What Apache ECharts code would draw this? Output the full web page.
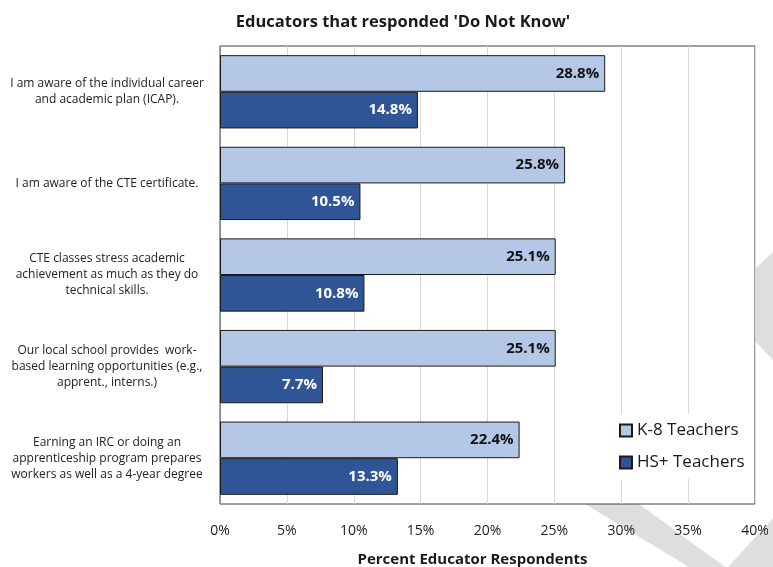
<!DOCTYPE html>
<html>
<head>
<meta charset="utf-8">
<script src="https://cdn.jsdelivr.net/npm/echarts@6/dist/echarts.min.js"></script>
<style>html,body{margin:0;padding:0;background:#fff}#c{width:773px;height:567px}</style>
</head>
<body>
<div id="c"></div>
<script>
const categories = [
  "I am aware of the individual career\nand academic plan (ICAP).",
  "I am aware of the CTE certificate.",
  "CTE classes stress academic\nachievement as much as they do\ntechnical skills.",
  "Our local school provides  work-\nbased learning opportunities (e.g.,\napprent., interns.)",
  "Earning an IRC or doing an\napprenticeship program prepares\nworkers as well as a 4-year degree"
];
const k8Values = [28.8, 25.8, 25.1, 25.1, 22.4];
const hsValues = [14.8, 10.5, 10.8, 7.7, 13.3];
const seriesNames = ["K-8 Teachers", "HS+ Teachers"];
const titleText = "Educators that responded 'Do Not Know'";
const xAxisName = "Percent Educator Respondents";

const FONT = "'Open Sans', 'Noto Sans', sans-serif";
const chart = echarts.init(document.getElementById('c'), null, {renderer: 'canvas'});
const grey = '#dedede';
chart.setOption({
  backgroundColor: '#ffffff',
  animation: false,
  textStyle: {fontFamily: FONT},
  title: {
    text: titleText, left: 398, top: 9, textAlign: 'center',
    textStyle: {fontFamily: FONT, fontSize: 16.5, fontWeight: 'bold', color: '#1a1a1a'}
  },
  graphic: [
    {type: 'polygon', z: -10, shape: {points: [[585,504],[639,504],[725,567],[689,567]]}, style: {fill: grey}},
    {type: 'polygon', z: -10, shape: {points: [[728,567],[773,518],[773,567]]}, style: {fill: grey}},
    {type: 'polygon', z: -10, shape: {points: [[756,268],[773,252],[773,360],[756,342]]}, style: {fill: grey}}
  ],
  grid: {
    left: 220, right: 18, top: 46, bottom: 63,
    outerBoundsMode: 'none', containLabel: false,
    show: true, backgroundColor: '#ffffff', borderColor: '#404040', borderWidth: 1
  },
  legend: {
    data: seriesNames,
    orient: 'vertical', left: 613, top: 414,
    backgroundColor: '#ffffff',
    padding: [8, 2, 8, 6],
    itemGap: 15, itemWidth: 12, itemHeight: 12,
    icon: 'rect',
    textStyle: {fontFamily: FONT, fontSize: 17, color: '#1a1a1a'}
  },
  xAxis: {
    type: 'value', min: 0, max: 40, interval: 5,
    axisLabel: {formatter: v => v + '%', fontSize: 14, color: '#222', margin: 20, fontFamily: FONT},
    splitLine: {show: true, lineStyle: {color: '#d9d9d9', width: 1}},
    axisLine: {show: false}, axisTick: {show: false},
    name: xAxisName, nameLocation: 'middle', nameGap: 48,
    nameTextStyle: {fontFamily: FONT, fontSize: 15, fontWeight: 'bold', color: '#1a1a1a', padding: [0, 30, 0, 0]}
  },
  yAxis: {
    type: 'category', data: categories, inverse: true,
    axisLine: {show: true, lineStyle: {color: '#8c8c8c'}},
    axisTick: {show: false},
    axisLabel: {align: 'center', margin: 113, fontSize: 12, lineHeight: 16, color: '#222', fontFamily: FONT}
  },
  series: [
    {
      name: seriesNames[0], type: 'bar', data: k8Values,
      barCategoryGap: '20%', barGap: '0%',
      itemStyle: {color: '#b4c7e7', borderColor: '#1a1a1a', borderWidth: 1},
      label: {show: true, position: 'insideRight', distance: 6, formatter: p => p.value.toFixed(1) + '%',
        fontFamily: FONT, fontSize: 15, fontWeight: 'bold', color: '#111'}
    },
    {
      name: seriesNames[1], type: 'bar', data: hsValues,
      barCategoryGap: '20%', barGap: '0%',
      itemStyle: {color: '#2f5597', borderColor: '#1a1a1a', borderWidth: 1},
      label: {show: true, position: 'insideRight', distance: 6, formatter: p => p.value.toFixed(1) + '%',
        fontFamily: FONT, fontSize: 15, fontWeight: 'bold', color: '#ffffff'}
    }
  ]
});
</script>
</body>
</html>
